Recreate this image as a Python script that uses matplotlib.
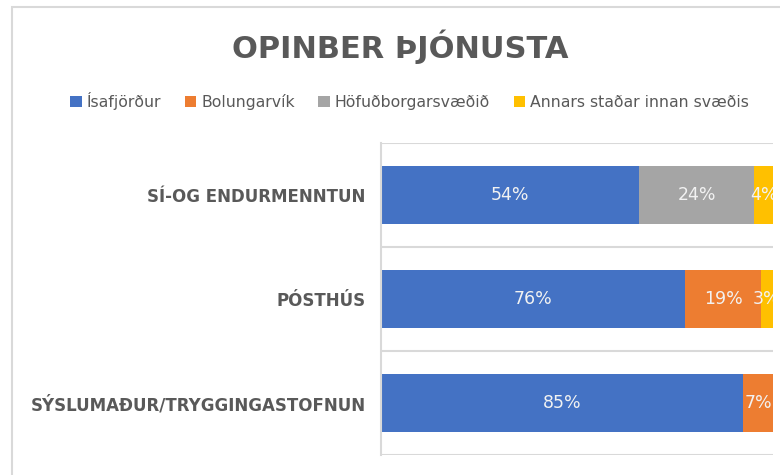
import matplotlib.pyplot as plt
import numpy as np
from matplotlib.patches import Rectangle

categories = ['SÍ-OG ENDURMENNTUN', 'PÓSTHÚS', 'SÝSLUMAÐUR/TRYGGINGASTOFNUN']
series = ['Ísafjörður', 'Bolungarvík', 'Höfuðborgarsvæðið', 'Annars staðar innan svæðis']
isafjordur = [54, 76, 85]
bolungarvik = [0, 19, 7]
hofudborg = [24, 0, 0]
annars = [4, 3, 0]
colors = ['#4472C4', '#ED7D31', '#A5A5A5', '#FFC000']

txt = '#595959'
grid = '#D9D9D9'

data = np.array([isafjordur, bolungarvik, hofudborg, annars], dtype=float)
totals = data.sum(axis=0)
shares = data / totals * 100  # 100% stacked

fig = plt.figure(figsize=(7.8, 4.75), dpi=100)
ax = fig.add_axes([381/780, 20/475, 392/780, 312/475])

y = np.arange(len(categories))
left = np.zeros(len(categories))
handles = []
for i, name in enumerate(series):
    bars = ax.barh(y, shares[i], left=left, height=0.55, color=colors[i], label=name)
    handles.append(bars)
    for j in range(len(categories)):
        if data[i, j] > 0:
            t = ax.text(left[j] + shares[i, j] / 2, y[j], f'{int(data[i, j])}%',
                        ha='center', va='center', color='#F2F2F2', fontsize=12.5,
                        family='DejaVu Sans')
            t.set_clip_on(True)
    left += shares[i]

ax.set_xlim(0, 100)
ax.set_ylim(len(categories) - 0.5, -0.5)
ax.set_yticks(y)
ax.set_yticklabels(categories, fontsize=12, fontweight='bold', color=txt)
ax.tick_params(axis='y', length=0, pad=11)
ax.set_xticks([])
ax.set_yticks(np.arange(-0.5, len(categories)), minor=True)
ax.tick_params(axis='y', which='minor', length=0)
ax.grid(axis='y', which='minor', color=grid, linewidth=1.5)
ax.set_axisbelow(True)
for s in ['top', 'right', 'bottom']:
    ax.spines[s].set_visible(False)
ax.spines['left'].set_color(grid)
ax.spines['left'].set_linewidth(1.5)

fig.text(0.513, 0.901, 'OPINBER ÞJÓNUSTA', ha='center', va='center',
         fontsize=22, color=txt, fontweight='bold')

fig.legend(handles=handles, labels=series, loc='center', ncol=4,
           bbox_to_anchor=(0.525, 0.787), frameon=False, fontsize=11.3,
           handlelength=0.75, handleheight=0.75, handletextpad=0.3,
           columnspacing=1.5, labelcolor=txt)

# chart frame (cropped at the right and bottom)
fig.add_artist(Rectangle((12/780, -0.2), 1.2, 1.2 - 7/475,
                         transform=fig.transFigure, fill=False,
                         edgecolor=grid, linewidth=1.5))

fig.savefig('out.png', dpi=100)
